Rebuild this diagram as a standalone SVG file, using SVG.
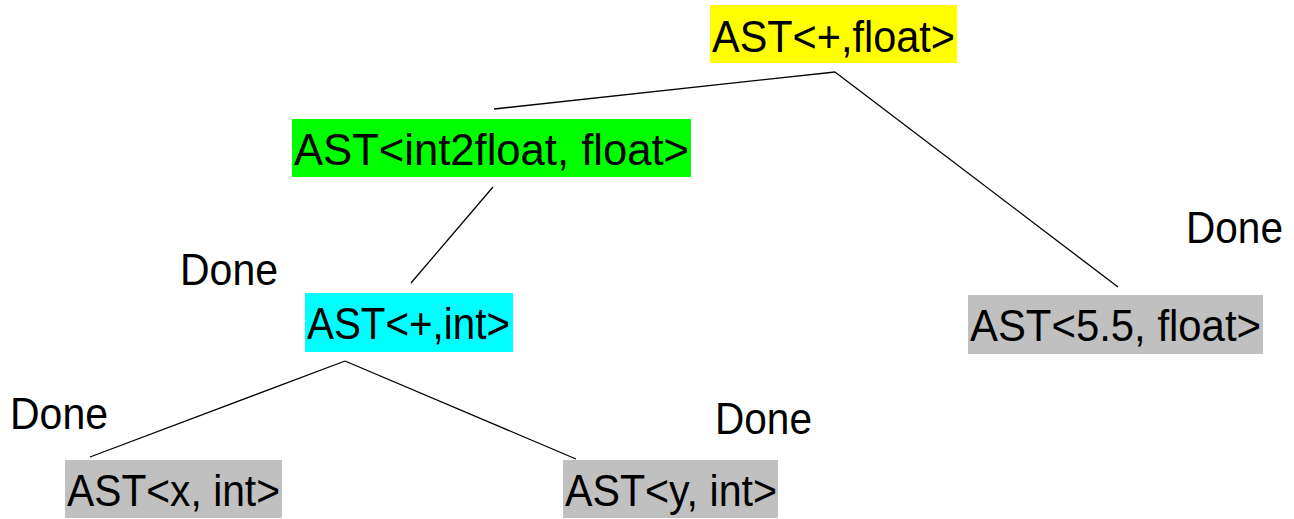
<svg xmlns="http://www.w3.org/2000/svg" width="1294" height="519" viewBox="0 0 1294 519">
<style>
.t{font-family:"Liberation Sans",Arial,sans-serif;font-size:44px;fill:#000}
.e{stroke:#000;stroke-width:1.3;fill:none}
</style>
<rect width="1294" height="519" fill="#fff"/>
<g id="connectors">
<line class="e" x1="835" y1="72" x2="494" y2="109"/>
<line class="e" x1="835" y1="72" x2="1118" y2="287"/>
<line class="e" x1="493" y1="187" x2="411" y2="283"/>
<line class="e" x1="345" y1="361" x2="90" y2="457"/>
<line class="e" x1="345" y1="361" x2="576" y2="459"/>
</g>
<g id="n-root">
<rect x="710" y="5" width="247" height="58" fill="#ffff00"/>
<text class="t" x="712" y="52" textLength="243" lengthAdjust="spacingAndGlyphs">AST&lt;+,float&gt;</text>
</g>
<g id="n-int2float">
<rect x="292" y="119" width="399" height="58" fill="#00ff00"/>
<text class="t" x="294" y="165" textLength="395" lengthAdjust="spacingAndGlyphs">AST&lt;int2float, float&gt;</text>
</g>
<g id="n-plusint">
<rect x="305" y="293" width="208" height="59" fill="#00ffff"/>
<text class="t" x="307" y="339" textLength="203" lengthAdjust="spacingAndGlyphs">AST&lt;+,int&gt;</text>
</g>
<g id="n-55">
<rect x="968" y="295" width="295" height="59" fill="#c0c0c0"/>
<text class="t" x="970" y="341" textLength="291" lengthAdjust="spacingAndGlyphs">AST&lt;5.5, float&gt;</text>
</g>
<g id="n-x">
<rect x="65" y="460" width="217" height="58" fill="#c0c0c0"/>
<text class="t" x="67" y="506" textLength="213" lengthAdjust="spacingAndGlyphs">AST&lt;x, int&gt;</text>
</g>
<g id="n-y">
<rect x="563" y="460" width="215" height="58" fill="#c0c0c0"/>
<text class="t" x="565" y="506" textLength="212" lengthAdjust="spacingAndGlyphs">AST&lt;y, int&gt;</text>
</g>
<g id="labels">
<text class="t" x="1186" y="243" textLength="97" lengthAdjust="spacingAndGlyphs">Done</text>
<text class="t" x="180" y="285" textLength="98" lengthAdjust="spacingAndGlyphs">Done</text>
<text class="t" x="10" y="429" textLength="98" lengthAdjust="spacingAndGlyphs">Done</text>
<text class="t" x="715" y="434" textLength="97" lengthAdjust="spacingAndGlyphs">Done</text>
</g>
</svg>
